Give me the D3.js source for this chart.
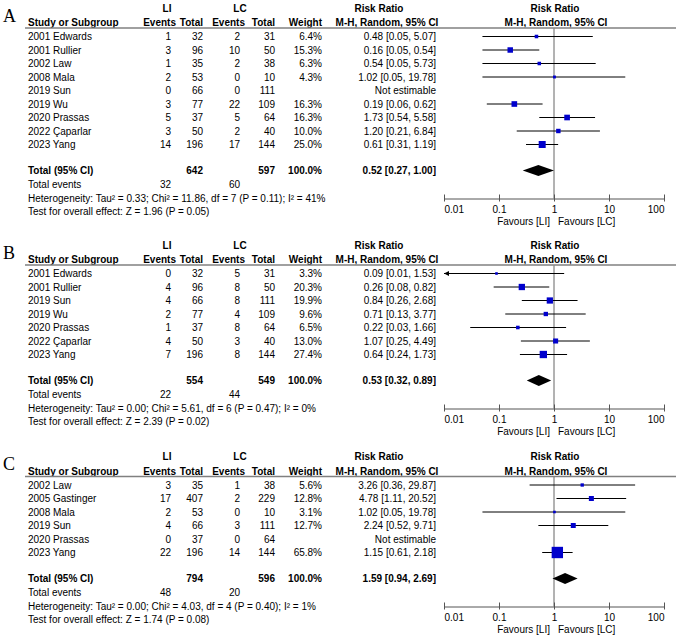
<!DOCTYPE html>
<html><head><meta charset="utf-8">
<script src="https://cdn.jsdelivr.net/npm/d3@7"></script>
<style>
html,body{margin:0;padding:0;background:#fff;}
svg{display:block;font-family:"Liberation Sans",Arial,sans-serif;}
</style></head>
<body><svg id="chart" width="676" height="637"></svg>
<script>
// ---------- DATA ----------
const tickValues = [0.01, 0.1, 1, 10, 100];
const tickLabels = ["0.01", "0.1", "1", "10", "100"];

// Panel A
const aStudies = ["2001 Edwards","2001 Rullier","2002 Law","2008 Mala","2019 Sun","2019 Wu","2020 Prassas","2022 Çaparlar","2023 Yang"];
const aLiEvents = [1,3,1,2,0,3,5,3,14];
const aLiTotal  = [32,96,35,53,66,77,37,50,196];
const aLcEvents = [2,10,2,0,0,22,5,2,17];
const aLcTotal  = [31,50,38,10,111,109,64,40,144];
const aWeight   = [6.4,15.3,6.3,4.3,null,16.3,16.3,10.0,25.0];
const aRR       = [0.48,0.16,0.54,1.02,null,0.19,1.73,1.20,0.61];
const aLo       = [0.05,0.05,0.05,0.05,null,0.06,0.54,0.21,0.31];
const aHi       = [5.07,0.54,5.73,19.78,null,0.62,5.58,6.84,1.19];
const aTotal    = {liTotal:642, lcTotal:597, rr:0.52, lo:0.27, hi:1.00, liEvents:32, lcEvents:60,
  het:"Heterogeneity: Tau² = 0.33; Chi² = 11.86, df = 7 (P = 0.11); I² = 41%",
  test:"Test for overall effect: Z = 1.96 (P = 0.05)"};

// Panel B
const bStudies = ["2001 Edwards","2001 Rullier","2019 Sun","2019 Wu","2020 Prassas","2022 Çaparlar","2023 Yang"];
const bLiEvents = [0,4,4,2,1,4,7];
const bLiTotal  = [32,96,66,77,37,50,196];
const bLcEvents = [5,8,8,4,8,3,8];
const bLcTotal  = [31,50,111,109,64,40,144];
const bWeight   = [3.3,20.3,19.9,9.6,6.5,13.0,27.4];
const bRR       = [0.09,0.26,0.84,0.71,0.22,1.07,0.64];
const bLo       = [0.01,0.08,0.26,0.13,0.03,0.25,0.24];
const bHi       = [1.53,0.82,2.68,3.77,1.66,4.49,1.73];
const bTotal    = {liTotal:554, lcTotal:549, rr:0.53, lo:0.32, hi:0.89, liEvents:22, lcEvents:44,
  het:"Heterogeneity: Tau² = 0.00; Chi² = 5.61, df = 6 (P = 0.47); I² = 0%",
  test:"Test for overall effect: Z = 2.39 (P = 0.02)"};

// Panel C
const cStudies = ["2002 Law","2005 Gastinger","2008 Mala","2019 Sun","2020 Prassas","2023 Yang"];
const cLiEvents = [3,17,2,4,0,22];
const cLiTotal  = [35,407,53,66,37,196];
const cLcEvents = [1,2,0,3,0,14];
const cLcTotal  = [38,229,10,111,64,144];
const cWeight   = [5.6,12.8,3.1,12.7,null,65.8];
const cRR       = [3.26,4.78,1.02,2.24,null,1.15];
const cLo       = [0.36,1.11,0.05,0.52,null,0.61];
const cHi       = [29.87,20.52,19.78,9.71,null,2.18];
const cTotal    = {liTotal:794, lcTotal:596, rr:1.59, lo:0.94, hi:2.69, liEvents:48, lcEvents:20,
  het:"Heterogeneity: Tau² = 0.00; Chi² = 4.03, df = 4 (P = 0.40); I² = 1%",
  test:"Test for overall effect: Z = 1.74 (P = 0.08)"};

// ---------- BUILD ----------
function mk(studies, liE, liT, lcE, lcT, w, rr, lo, hi){
  return studies.map((s,i)=>({name:s, liE:liE[i], liT:liT[i], lcE:lcE[i], lcT:lcT[i], w:w[i], rr:rr[i], lo:lo[i], hi:hi[i]}));
}
const panels = [
  {letter:"A", ys:22.5, rows:mk(aStudies,aLiEvents,aLiTotal,aLcEvents,aLcTotal,aWeight,aRR,aLo,aHi), tot:aTotal},
  {letter:"B", ys:259.5, rows:mk(bStudies,bLiEvents,bLiTotal,bLcEvents,bLcTotal,bWeight,bRR,bLo,bHi), tot:bTotal},
  {letter:"C", ys:471, rows:mk(cStudies,cLiEvents,cLiTotal,cLcEvents,cLcTotal,cWeight,cRR,cLo,cHi), tot:cTotal}
];

const svg = d3.select("#chart");
const FS = 10;
const H = 13.5;
const X = {name:28, liE:171, liT:203, lcE:240, lcT:275, w:322, rr:436};
const x = d3.scaleLog().domain([0.01,100]).range([444,664]);
const fmtRR = (r,l,h)=> `${r.toFixed(2)} [${l.toFixed(2)}, ${h.toFixed(2)}]`;

function txt(g, xx, yy, s, anchor, bold){
  return g.append("text").attr("x",xx).attr("y",yy).attr("dy","0.35em")
    .attr("font-size",FS).attr("text-anchor",anchor||"start")
    .attr("font-weight",bold?"bold":"normal").attr("fill","#000").text(s);
}

panels.forEach(p=>{
  const g = svg.append("g");
  const ys = p.ys;
  // panel letter
  g.append("text").attr("x",3).attr("y",ys-1).attr("font-family","'Liberation Serif','Times New Roman',serif")
    .attr("font-size",18).attr("fill","#000").text(p.letter);
  // headers row 1
  txt(g,167,ys-14.5,"LI","middle",true);
  txt(g,240,ys-14.5,"LC","middle",true);
  txt(g,379,ys-14.5,"Risk Ratio","middle",true);
  txt(g,555,ys-14.5,"Risk Ratio","middle",true);
  // headers row 2
  txt(g,X.name,ys,"Study or Subgroup","start",true);
  txt(g,176,ys,"Events","end",true);
  txt(g,X.liT,ys,"Total","end",true);
  txt(g,245,ys,"Events","end",true);
  txt(g,X.lcT,ys,"Total","end",true);
  txt(g,X.w,ys,"Weight","end",true);
  txt(g,387,ys,"M-H, Random, 95% CI","middle",true);
  txt(g,556,ys,"M-H, Random, 95% CI","middle",true);
  // underline
  g.append("line").attr("x1",25).attr("x2",676).attr("y1",ys+5.5).attr("y2",ys+5.5)
    .attr("stroke","#808080").attr("stroke-width",1.5);

  const y0 = ys+14;
  const yRow = i => y0 + i*H;
  const n = p.rows.length;
  const yTot = yRow(n-1) + 26;
  const yTE = yTot + 14;
  const yHet = yTE + H;
  const yTest = yHet + H;
  const yAxis = yHet + 0.5;

  // vertical line at RR=1
  g.append("line").attr("x1",x(1)).attr("x2",x(1)).attr("y1",ys+6).attr("y2",yAxis)
    .attr("stroke","#666").attr("stroke-width",1);

  p.rows.forEach((r,i)=>{
    const y = yRow(i);
    txt(g,X.name,y,r.name);
    txt(g,X.liE,y,r.liE,"end");
    txt(g,X.liT,y,r.liT,"end");
    txt(g,X.lcE,y,r.lcE,"end");
    txt(g,X.lcT,y,r.lcT,"end");
    if(r.w!=null) txt(g,X.w,y,r.w.toFixed(1)+"%","end");
    if(r.rr==null){
      txt(g,X.rr,y,"Not estimable","end");
    } else {
      txt(g,X.rr,y,fmtRR(r.rr,r.lo,r.hi),"end");
      const [d0,d1] = x.domain();
      const loC = Math.max(r.lo,d0), hiC = Math.min(r.hi,d1);
      g.append("line").attr("x1",x(loC)).attr("x2",x(hiC)).attr("y1",y).attr("y2",y)
        .attr("stroke","#000").attr("stroke-width",1);
      if(r.lo<=d0){
        const ax = x(d0);
        g.append("path").attr("d",`M${ax},${y} L${ax+5},${y-2.5} L${ax+5},${y+2.5} Z`).attr("fill","#000");
      }
      const s = Math.max(2.6, 1.4*Math.sqrt(r.w));
      g.append("rect").attr("x",x(r.rr)-s/2).attr("y",y-s/2).attr("width",s).attr("height",s)
        .attr("fill","#0000CC");
    }
  });

  // total row
  const t = p.tot;
  txt(g,X.name,yTot,"Total (95% CI)","start",true);
  txt(g,X.liT,yTot,t.liTotal,"end",true);
  txt(g,X.lcT,yTot,t.lcTotal,"end",true);
  txt(g,X.w,yTot,"100.0%","end",true);
  txt(g,X.rr,yTot,fmtRR(t.rr,t.lo,t.hi),"end",true);
  const dh = 5.5;
  g.append("path").attr("d",`M${x(t.lo)},${yTot} L${x(t.rr)},${yTot-dh} L${x(t.hi)},${yTot} L${x(t.rr)},${yTot+dh} Z`)
    .attr("fill","#000");
  txt(g,X.name,yTE,"Total events");
  txt(g,X.liE,yTE,t.liEvents,"end");
  txt(g,X.lcE,yTE,t.lcEvents,"end");
  txt(g,X.name,yHet,t.het);
  txt(g,X.name,yTest,t.test);

  // axis
  const axis = d3.axisBottom(x).tickValues(tickValues)
    .tickFormat((d,i)=>tickLabels[i]).tickSizeInner(3).tickSizeOuter(0).tickPadding(4);
  const ag = g.append("g").attr("transform",`translate(0,${yAxis})`).call(axis);
  ag.select(".domain").attr("stroke","#555");
  ag.selectAll(".tick line").attr("stroke","#555").attr("y1",-4);
  ag.selectAll(".tick text").attr("font-size",FS).attr("fill","#000")
    .attr("font-family","'Liberation Sans',Arial,sans-serif")
    .attr("text-anchor",(d,i)=> i===0?"start":(i===tickValues.length-1?"end":"middle"));
  txt(g,x(1)-4,yAxis+23,"Favours [LI]","end");
  txt(g,x(1)+4,yAxis+23,"Favours [LC]","start");
});
</script>
</body></html>
